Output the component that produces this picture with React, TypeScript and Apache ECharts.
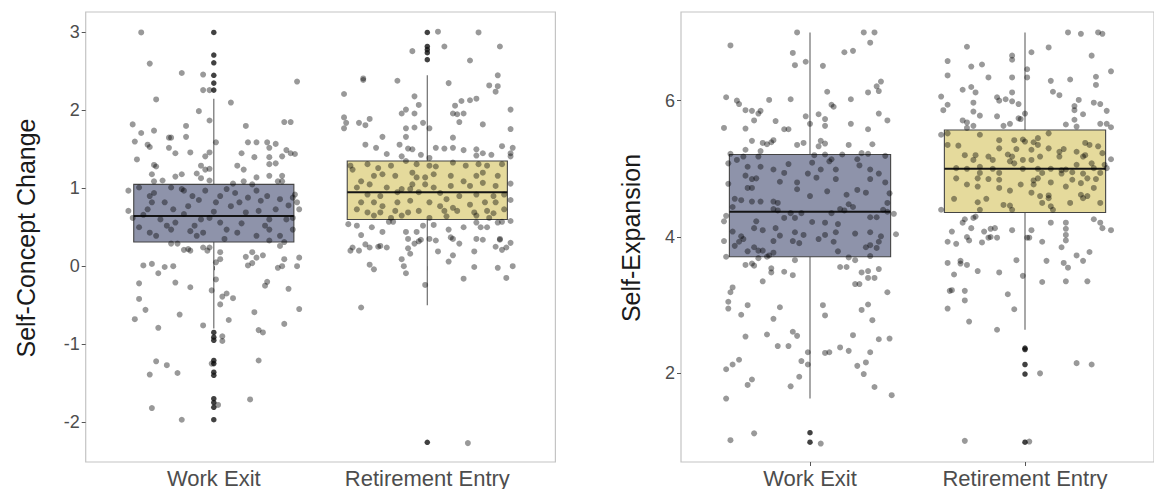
import React, { useEffect, useRef } from "react";
import * as echarts from "echarts";

const categories = ["Work Exit", "Retirement Entry"];
const scTicks = [-2, -1, 0, 1, 2, 3];
const seTicks = [2, 4, 6];

// [low whisker, Q1, median, Q3, high whisker] per category
const scBoxStats = [
  [-0.8, 0.31, 0.645, 1.05, 2.15],
  [-0.5, 0.6, 0.95, 1.35, 2.45],
];
const seBoxStats = [
  [1.63, 3.71, 4.37, 5.21, 7.0],
  [2.64, 4.36, 5.0, 5.57, 7.0],
];

const scOutliersWorkExit = [3.0, 2.71, 2.61, 2.45, 2.35, 2.26, -0.85, -0.91, -0.95, -1.21, -1.25, -1.36, -1.4, -1.7, -1.75, -1.81, -1.97];
const scOutliersRetirement = [3.0, 2.82, 2.78, 2.74, 2.65, -2.26];
const seOutliersWorkExit = [1.13, 0.99];
const seOutliersRetirement = [2.37, 2.35, 2.13, 1.99, 0.99];

// jittered observations: [horizontal jitter offset, value]
const scJitterWorkExit = [
  [-0.34, 3.0], [-0.3, 2.6], [-0.15, 2.48], [-0.05, 2.46], [-0.05, 2.26], [-0.02, 2.26], [0.39, 2.37], [-0.27, 2.14], [0.08, 2.1], [-0.07, 1.99],
  [-0.02, 1.87], [-0.38, 1.82], [-0.34, 1.71], [-0.28, 1.74], [-0.13, 1.8], [0.15, 1.8], [0.33, 1.85], [0.36, 1.85], [-0.37, 1.6], [-0.31, 1.56],
  [-0.3, 1.53], [-0.21, 1.65], [-0.2, 1.65], [-0.13, 1.66], [0.01, 1.59], [-0.21, 1.52], [-0.18, 1.45], [-0.11, 1.46], [-0.04, 1.41], [-0.02, 1.46],
  [0.16, 1.59], [0.2, 1.59], [0.25, 1.59], [0.29, 1.57], [0.26, 1.52], [0.13, 1.45], [0.19, 1.4], [0.26, 1.4], [0.32, 1.41], [0.34, 1.49],
  [0.36, 1.45], [0.38, 1.44], [-0.36, 1.37], [-0.28, 1.3], [-0.27, 1.28], [-0.29, 1.18], [-0.18, 1.15], [-0.15, 1.18], [-0.08, 1.19], [-0.06, 1.29],
  [-0.04, 1.24], [-0.02, 1.25], [-0.06, 1.13], [-0.02, 1.1], [0.11, 1.29], [0.14, 1.24], [0.26, 1.31], [0.29, 1.32], [0.26, 1.16], [0.32, 1.16],
  [0.3, 1.09], [0.32, 1.09], [-0.24, 1.1], [-0.28, 1.09], [0.09, 1.06], [0.14, 1.09], [0.18, 1.05], [0.2, 1.14], [-0.4, 0.97], [-0.4, 0.71],
  [0.38, 0.92], [0.39, 0.82], [0.4, 0.73], [0.37, 0.88],
  [-0.35, 1.01], [-0.28, 0.94], [-0.23, 0.82], [-0.2, 1.01], [-0.15, 0.99], [-0.29, 0.82], [-0.31, 0.73], [-0.19, 0.73], [-0.12, 0.77], [-0.07, 0.85],
  [0.01, 0.82], [0.06, 0.99], [0.1, 0.94], [0.08, 0.77], [0.12, 0.82], [0.2, 0.97], [0.25, 0.9], [0.31, 0.86], [0.29, 0.73], [0.21, 0.71],
  [0.15, 0.69], [0.26, 0.6], [0.34, 0.6], [-0.25, 0.6], [-0.18, 0.56], [-0.14, 0.67], [-0.06, 0.6], [-0.02, 0.62], [0.03, 0.56], [0.06, 0.47],
  [-0.35, 0.5], [-0.3, 0.43], [-0.27, 0.39], [-0.2, 0.47], [-0.11, 0.45], [-0.08, 0.39], [-0.05, 0.43], [0.11, 0.43], [0.2, 0.39], [0.26, 0.47],
  [0.31, 0.39], [0.37, 0.47], [-0.38, 0.62], [0.37, 0.62], [-0.3, 0.9], [-0.14, 0.97], [-0.1, 0.9], [-0.04, 0.97], [0.03, 0.9], [0.16, 0.88],
  [0.22, 0.84], [0.35, 0.78], [-0.33, 0.66], [-0.22, 0.52], [0.13, 0.55], [0.24, 0.52], [0.0, 0.7], [-0.09, 0.52],
  [-0.2, 0.29], [-0.17, 0.29], [-0.14, 0.21], [-0.11, 0.2], [-0.12, 0.22], [-0.05, 0.24], [-0.03, 0.2], [-0.02, 0.24], [0.03, 0.18], [0.05, 0.35],
  [0.26, 0.33], [0.33, 0.31], [0.31, 0.26], [0.15, 0.12], [0.18, 0.18], [0.2, 0.11], [0.23, 0.14], [0.18, 0.04], [0.16, 0.01], [0.03, 0.09],
  [0.01, 0.05], [0.33, 0.09], [0.4, 0.11], [0.39, 0.0], [0.32, 0.0], [0.3, -0.02], [-0.33, 0.01], [-0.29, 0.03], [-0.23, -0.01], [-0.19, 0.0],
  [-0.26, -0.09], [-0.35, -0.22], [-0.18, -0.21], [-0.11, -0.27], [-0.01, -0.31], [0.01, -0.17], [0.25, -0.2], [0.24, -0.25], [0.35, -0.29], [0.06, -0.35],
  [0.04, -0.39], [0.09, -0.41], [-0.35, -0.42], [0.03, -0.49], [-0.32, -0.56], [0.4, -0.55], [-0.37, -0.68], [-0.16, -0.62], [0.07, -0.69], [0.19, -0.59],
  [-0.05, -0.76], [-0.26, -0.79], [0.33, -0.74], [0.21, -0.82], [0.23, -0.85], [0.04, -0.9], [0.04, -0.96], [-0.27, -1.22], [-0.22, -1.27], [-0.3, -1.39],
  [-0.17, -1.37], [-0.01, -1.25], [0.21, -1.21], [0.17, -1.71], [-0.29, -1.82], [-0.15, -1.97], [0.02, -1.78],
];

const scJitterRetirement = [
  [0.05, 3.01], [0.24, 3.0], [-0.07, 2.76], [0.08, 2.82], [0.34, 2.82], [0.2, 2.64], [-0.3, 2.41], [-0.3, 2.39], [-0.14, 2.38], [0.1, 2.35],
  [0.33, 2.45], [0.29, 2.32], [0.33, 2.31], [0.32, 2.24], [-0.39, 2.21], [-0.06, 2.18], [-0.1, 2.01], [-0.12, 1.96], [-0.04, 2.07], [-0.06, 1.96],
  [0.13, 2.06], [0.16, 2.12], [0.2, 2.13], [0.23, 2.15], [0.12, 1.96], [0.14, 1.95], [0.17, 1.96], [0.15, 1.85], [0.39, 2.01], [-0.39, 1.91],
  [-0.38, 1.84], [-0.39, 1.77], [-0.32, 1.84], [-0.29, 1.81], [-0.27, 1.89], [-0.02, 1.84], [0.01, 1.77], [-0.1, 1.77], [-0.06, 1.78], [0.26, 1.82],
  [0.39, 1.76], [-0.21, 1.66], [-0.1, 1.66], [0.12, 1.65], [-0.29, 1.56], [-0.24, 1.52], [-0.13, 1.56], [-0.09, 1.51], [-0.07, 1.5], [0.04, 1.52],
  [0.08, 1.51], [0.12, 1.52], [0.17, 1.49], [0.23, 1.5], [0.35, 1.54], [0.4, 1.52], [-0.19, 1.44], [-0.12, 1.41], [-0.03, 1.43], [0.01, 1.39],
  [0.23, 1.42], [0.26, 1.45], [0.3, 1.43], [0.39, 1.45], [0.39, 1.41],
  [-0.36, 1.29], [-0.35, 1.24], [-0.28, 1.31], [-0.23, 1.26], [-0.17, 1.29], [-0.1, 1.35], [-0.05, 1.31], [0.01, 1.29], [0.04, 1.28], [0.12, 1.33],
  [0.18, 1.29], [0.24, 1.31], [0.28, 1.29], [0.35, 1.31], [-0.31, 1.09], [-0.25, 1.16], [-0.21, 1.18], [-0.15, 1.16], [-0.07, 1.2], [-0.05, 1.14],
  [-0.01, 1.14], [0.03, 1.18], [0.11, 1.16], [0.17, 1.09], [0.23, 1.16], [0.26, 1.2], [0.33, 1.16], [0.39, 1.06], [-0.33, 1.01], [-0.27, 1.05],
  [-0.19, 1.01], [-0.12, 0.99], [-0.07, 1.05], [-0.01, 1.05], [0.03, 1.01], [0.11, 1.03], [0.2, 1.03], [0.26, 1.07], [0.32, 1.03], [-0.28, 0.92],
  [-0.22, 0.9], [-0.14, 0.95], [-0.08, 0.99], [-0.04, 0.95], [0.06, 0.94], [0.09, 0.86], [0.15, 0.9], [0.23, 0.92], [0.31, 0.9], [0.36, 0.92],
  [-0.31, 0.82], [-0.25, 0.82], [-0.21, 0.77], [-0.14, 0.82], [-0.08, 0.84], [0.01, 0.82], [0.06, 0.77], [0.12, 0.75], [0.2, 0.79], [0.27, 0.82],
  [0.32, 0.82], [0.39, 0.85], [-0.33, 0.73], [-0.28, 0.69], [-0.22, 0.69], [-0.15, 0.71], [-0.09, 0.69], [-0.04, 0.71], [0.08, 0.71], [0.14, 0.71],
  [0.22, 0.69], [0.28, 0.71], [0.31, 0.68], [0.36, 0.73], [-0.25, 0.65], [-0.17, 0.62], [-0.12, 0.65], [0.01, 0.62], [0.09, 0.64], [0.23, 0.65],
  [0.29, 0.62],
  [-0.37, 0.54], [-0.33, 0.52], [-0.26, 0.5], [-0.18, 0.57], [-0.16, 0.57], [-0.1, 0.44], [-0.05, 0.44], [-0.02, 0.52], [0.03, 0.53], [0.1, 0.47],
  [0.17, 0.5], [0.23, 0.56], [0.25, 0.5], [0.28, 0.5], [0.33, 0.56], [0.35, 0.57], [0.39, 0.58], [-0.31, 0.4], [-0.21, 0.44], [-0.09, 0.35],
  [0.01, 0.35], [0.11, 0.37], [0.23, 0.35], [0.34, 0.35],
  [-0.36, 0.2], [-0.35, 0.24], [-0.32, 0.2], [-0.29, 0.28], [-0.27, 0.24], [-0.23, 0.25], [-0.22, 0.26], [-0.19, 0.24], [-0.27, 0.02], [-0.25, -0.04],
  [-0.12, 0.09], [-0.11, 0.0], [-0.1, -0.09], [-0.09, 0.23], [-0.08, 0.16], [-0.06, 0.29], [-0.04, 0.32], [-0.03, 0.34], [-0.01, -0.24], [0.04, 0.33],
  [0.05, 0.19], [0.1, 0.06], [0.12, 0.14], [0.12, 0.35], [0.15, 0.29], [0.17, -0.16], [0.22, 0.19], [0.22, -0.01], [0.26, 0.34], [0.32, 0.25],
  [0.34, 0.34], [0.35, 0.21], [0.37, 0.24], [0.39, 0.3], [0.33, -0.02], [0.4, 0.0], [0.37, -0.15], [-0.31, -0.53], [0.19, -2.27],
];

const seJitterWorkExit = [
  [-0.06, 7.0], [-0.37, 6.81], [-0.08, 6.7], [-0.07, 6.52], [-0.02, 6.57], [0.06, 6.51], [0.16, 6.71], [0.2, 6.73], [0.25, 7.0], [0.3, 7.0],
  [0.28, 6.85], [0.31, 6.21], [0.33, 6.28], [0.32, 6.14], [0.27, 6.12], [0.08, 6.13], [0.19, 6.02], [0.1, 5.94], [0.11, 5.91], [-0.39, 6.05],
  [-0.34, 6.0], [-0.33, 5.95], [-0.3, 5.86], [-0.27, 5.85], [-0.24, 5.81], [-0.23, 5.85], [-0.19, 6.01], [-0.09, 6.02], [-0.26, 5.71], [-0.16, 5.7],
  [-0.02, 5.77], [0.0, 5.66], [0.04, 5.8], [0.07, 5.73], [0.07, 5.63], [0.19, 5.66], [0.32, 5.81], [0.36, 5.71], [-0.4, 5.6], [-0.3, 5.59],
  [-0.12, 5.58], [-0.1, 5.58], [0.27, 5.58], [-0.27, 5.41], [-0.22, 5.38], [-0.2, 5.36], [-0.18, 5.39], [-0.17, 5.42], [-0.06, 5.35], [-0.03, 5.38],
  [0.04, 5.33], [0.05, 5.41], [0.07, 5.37], [0.18, 5.35], [0.29, 5.36], [-0.3, 5.28], [-0.23, 5.26],
  [-0.37, 5.22], [-0.34, 5.13], [-0.31, 5.18], [-0.24, 5.18], [-0.38, 5.08], [-0.29, 5.03], [-0.23, 5.03], [-0.17, 4.99], [-0.1, 5.07], [0.01, 5.09],
  [0.02, 5.2], [0.07, 5.21], [0.09, 5.11], [0.1, 5.14], [0.15, 5.21], [0.22, 5.14], [0.24, 5.23], [0.27, 5.22], [0.35, 5.19], [0.23, 5.05],
  [0.28, 4.99], [0.32, 4.93], [0.35, 4.8], [-0.3, 4.9], [-0.27, 4.85], [-0.25, 4.86], [-0.12, 4.94], [-0.14, 4.81], [-0.06, 4.8], [-0.01, 4.93],
  [0.03, 4.87], [0.05, 4.99], [0.12, 4.99], [0.12, 4.85], [0.28, 4.85], [-0.38, 4.78], [-0.29, 4.72], [-0.27, 4.72], [-0.06, 4.7], [0.08, 4.67],
  [0.22, 4.69], [0.26, 4.65], [0.37, 4.64], [0.0, 4.6], [0.17, 4.62], [-0.35, 4.56], [-0.32, 4.54], [-0.27, 4.52], [-0.23, 4.52], [-0.17, 4.52],
  [-0.15, 4.5], [0.18, 4.48], [0.2, 4.44], [0.36, 4.5], [-0.36, 4.44], [-0.17, 4.41], [-0.15, 4.39], [-0.09, 4.35], [-0.04, 4.35], [0.1, 4.35],
  [0.14, 4.41], [0.16, 4.39], [0.34, 4.4], [0.36, 4.37], [0.39, 4.34], [-0.39, 4.31], [-0.4, 4.23], [-0.25, 4.23], [-0.12, 4.28], [-0.07, 4.28],
  [0.01, 4.22], [0.07, 4.21], [0.13, 4.19], [0.28, 4.29], [0.31, 4.29], [-0.36, 4.08], [-0.32, 4.01], [-0.26, 4.13], [-0.22, 4.1], [-0.16, 4.13],
  [-0.14, 4.02], [-0.07, 4.07], [-0.03, 4.03], [0.07, 4.03], [0.12, 4.07], [0.21, 4.05], [0.28, 4.07], [0.33, 4.01], [0.4, 4.04],
  [-0.4, 3.94], [-0.35, 3.87], [-0.33, 3.93], [-0.31, 3.97], [-0.29, 3.79], [-0.26, 3.85], [-0.24, 3.8], [-0.22, 3.8], [-0.17, 3.94], [-0.17, 3.77],
  [-0.08, 3.94], [-0.05, 3.91], [0.04, 3.97], [0.11, 3.93], [0.13, 3.79], [0.28, 3.88], [0.31, 3.84], [0.32, 3.93], [0.26, 3.85], [0.28, 3.72],
  [-0.39, 3.71], [-0.3, 3.59], [-0.27, 3.61], [-0.26, 3.58], [-0.24, 3.69], [-0.2, 3.71], [-0.19, 3.73], [-0.18, 3.54], [-0.18, 3.48], [-0.12, 3.49],
  [-0.08, 3.44], [-0.07, 3.66], [-0.22, 3.35], [0.14, 3.56], [0.17, 3.56], [0.18, 3.7], [0.21, 3.66], [0.24, 3.48], [0.27, 3.5], [0.27, 3.4],
  [0.3, 3.4], [0.32, 3.53], [0.21, 3.31], [0.23, 3.31], [0.36, 3.19], [-0.36, 3.26], [-0.37, 3.19], [-0.38, 3.05], [-0.38, 2.95], [-0.29, 3.0],
  [-0.32, 2.86], [-0.14, 2.97], [-0.17, 2.8], [0.06, 3.0], [0.07, 2.85], [0.24, 2.93], [0.27, 3.01], [0.29, 2.78], [-0.3, 2.54], [-0.2, 2.57],
  [-0.08, 2.61], [-0.06, 2.55], [-0.15, 2.4], [-0.1, 2.4], [-0.01, 2.31], [0.2, 2.56], [0.32, 2.5], [0.37, 2.51], [0.07, 2.3], [0.09, 2.31],
  [0.14, 2.38], [0.18, 2.33], [0.28, 2.31], [-0.39, 2.06], [-0.36, 2.13], [-0.33, 2.2], [-0.04, 2.18], [-0.01, 2.13], [-0.05, 1.95], [-0.09, 1.81],
  [-0.29, 1.83], [-0.27, 1.91], [0.22, 2.11], [0.26, 2.16], [0.25, 1.99], [0.3, 1.8], [-0.39, 1.63], [0.38, 1.68], [-0.37, 1.02], [-0.26, 1.12],
  [0.05, 0.97],
];

const seJitterRetirement = [
  [0.2, 7.0], [0.26, 6.98], [0.34, 7.0], [0.36, 6.98], [-0.27, 6.79], [-0.06, 6.66], [-0.06, 6.6], [0.03, 6.71], [0.11, 6.78], [0.31, 6.66],
  [-0.36, 6.58], [-0.25, 6.5], [-0.2, 6.53], [-0.36, 6.37], [-0.17, 6.34], [-0.06, 6.34], [0.01, 6.46], [0.01, 6.34], [0.12, 6.29], [0.21, 6.31],
  [0.33, 6.35], [0.4, 6.43], [0.33, 6.23], [-0.29, 6.16], [-0.25, 6.2], [-0.23, 6.12], [-0.06, 6.12], [0.13, 6.13], [0.16, 6.08], [-0.39, 6.06],
  [-0.36, 5.94], [-0.38, 5.86], [-0.24, 5.97], [-0.13, 6.05], [-0.12, 6.0], [-0.09, 6.02], [-0.06, 5.99], [-0.03, 5.95], [-0.24, 5.84], [-0.21, 5.78],
  [-0.13, 5.77], [0.0, 5.81], [-0.03, 5.74], [-0.02, 5.73], [0.23, 5.92], [0.23, 5.86], [0.25, 6.01], [0.27, 5.8], [0.32, 5.97], [0.35, 5.95],
  [0.38, 5.85], [0.23, 5.72], [0.19, 5.65], [-0.29, 5.71], [-0.27, 5.68], [-0.24, 5.63], [-0.1, 5.63], [-0.07, 5.66], [-0.27, 5.6], [0.24, 5.62],
  [0.35, 5.66], [0.38, 5.66], [0.4, 5.61],
  [-0.39, 5.5], [-0.36, 5.52], [-0.36, 5.35], [-0.31, 5.34], [-0.21, 5.5], [-0.12, 5.42], [-0.05, 5.42], [-0.01, 5.43], [0.0, 5.4], [0.04, 5.39],
  [0.06, 5.45], [0.11, 5.52], [-0.12, 5.3], [-0.04, 5.29], [0.03, 5.28], [0.06, 5.35], [0.11, 5.3], [0.16, 5.25], [0.18, 5.29], [0.28, 5.38],
  [0.3, 5.35], [0.34, 5.33], [0.24, 5.25], [-0.28, 5.2], [-0.23, 5.2], [-0.17, 5.18], [-0.15, 5.13], [-0.08, 5.21], [-0.06, 5.18], [-0.07, 5.11],
  [-0.05, 5.08], [-0.01, 5.13], [-0.24, 5.13], [0.07, 5.18], [0.03, 5.13], [0.16, 5.18], [0.27, 5.18], [0.28, 5.2], [0.36, 5.23], [0.4, 5.14],
  [0.24, 5.06], [0.31, 5.08], [0.37, 5.06], [-0.32, 5.01], [-0.27, 5.0], [-0.21, 5.03], [-0.15, 5.0], [-0.01, 5.0], [0.06, 5.0], [0.12, 5.0],
  [0.17, 4.98], [0.19, 4.99], [0.32, 5.01], [0.38, 5.01], [-0.21, 4.94], [-0.12, 4.94], [0.08, 4.94], [0.17, 4.93], [0.22, 4.95], [0.27, 4.93],
  [0.35, 4.94], [-0.32, 4.86], [-0.22, 4.86], [-0.17, 4.85], [-0.12, 4.84], [0.04, 4.83], [0.06, 4.86], [0.12, 4.8], [0.22, 4.84], [0.29, 4.86],
  [0.33, 4.85], [-0.27, 4.77], [-0.22, 4.74], [-0.12, 4.72], [-0.07, 4.68], [-0.02, 4.77], [0.04, 4.77], [0.19, 4.74], [0.26, 4.79], [0.32, 4.72],
  [0.03, 4.65], [0.07, 4.6], [0.11, 4.61], [0.11, 4.57], [0.26, 4.62], [0.29, 4.6], [-0.33, 4.56], [-0.22, 4.51], [-0.18, 4.56], [-0.1, 4.47],
  [-0.07, 4.46], [0.08, 4.5], [0.12, 4.45], [0.21, 4.5], [0.27, 4.57], [-0.39, 4.4], [-0.21, 4.4], [-0.06, 4.4], [0.13, 4.4], [0.35, 4.5],
  [-0.29, 4.21], [-0.28, 4.26], [-0.24, 4.28], [-0.23, 4.3], [-0.25, 4.13], [-0.19, 4.08], [-0.16, 4.12], [-0.14, 4.13], [-0.06, 4.1], [0.01, 3.99],
  [0.03, 4.1], [0.12, 4.21], [0.19, 4.21], [0.19, 4.12], [0.19, 4.03], [0.32, 4.26], [0.35, 4.21], [0.36, 4.13], [0.4, 4.1], [-0.34, 4.08],
  [-0.27, 4.0], [-0.16, 4.0],
  [-0.36, 3.93], [-0.32, 3.9], [-0.26, 3.95], [-0.2, 3.92], [-0.17, 3.99], [-0.13, 3.99], [0.02, 3.99], [0.08, 3.93], [0.19, 3.95], [0.17, 3.85],
  [0.24, 3.73], [0.3, 3.78], [0.27, 3.65], [-0.36, 3.62], [-0.3, 3.65], [-0.3, 3.61], [-0.27, 3.59], [-0.33, 3.45], [-0.22, 3.5], [-0.12, 3.48],
  [-0.04, 3.66], [-0.01, 3.43], [0.1, 3.65], [0.18, 3.62], [0.2, 3.55], [0.08, 3.34], [0.19, 3.35], [0.29, 3.35], [-0.35, 3.21], [-0.34, 3.22],
  [-0.28, 3.21], [-0.28, 3.07], [-0.08, 3.16], [-0.36, 2.95], [-0.05, 2.94], [-0.26, 2.76], [-0.13, 2.64], [0.07, 2.0], [0.24, 2.15], [0.31, 2.13],
  [-0.28, 1.01], [0.02, 1.0],
];

const FONT = "'Liberation Sans', Arial, Helvetica, sans-serif";
const boxFills = ["#8e93aa", "#e5da9c"];

function jitterData(points: number[][], cat: number) {
  return points.map((p) => [cat + p[0], p[1]]);
}

function outlierData(values: number[], cat: number) {
  return values.map((v) => [cat, v]);
}

function boxData(stats: number[][]) {
  return stats.map((s, i) => [i + 1, s[0], s[1], s[2], s[3], s[4]]);
}

function renderBox(params: any, api: any) {
  const x = api.value(0);
  const lo = api.value(1);
  const q1 = api.value(2);
  const med = api.value(3);
  const q3 = api.value(4);
  const hi = api.value(5);
  const half = 0.375;
  const tl = api.coord([x - half, q3]);
  const br = api.coord([x + half, q1]);
  const cHi = api.coord([x, hi]);
  const cQ3 = api.coord([x, q3]);
  const cQ1 = api.coord([x, q1]);
  const cLo = api.coord([x, lo]);
  const mL = api.coord([x - half, med]);
  const mR = api.coord([x + half, med]);
  const fill = boxFills[params.dataIndex];
  return {
    type: "group",
    children: [
      { type: "line", shape: { x1: cHi[0], y1: cHi[1], x2: cQ3[0], y2: cQ3[1] }, style: { stroke: "#6e6e6e", lineWidth: 1.2 } },
      { type: "line", shape: { x1: cQ1[0], y1: cQ1[1], x2: cLo[0], y2: cLo[1] }, style: { stroke: "#6e6e6e", lineWidth: 1.2 } },
      { type: "rect", shape: { x: tl[0], y: tl[1], width: br[0] - tl[0], height: br[1] - tl[1] }, style: { fill, stroke: "#444", lineWidth: 1.1 } },
      { type: "line", shape: { x1: mL[0], y1: mL[1], x2: mR[0], y2: mR[1] }, style: { stroke: "#151515", lineWidth: 2 } },
    ],
  };
}

function makeXAxis(gridIndex: number) {
  return {
    type: "value",
    gridIndex,
    min: 0.4,
    max: 2.6,
    splitLine: { show: false },
    axisLine: { show: false },
    axisTick: { show: true, length: 4, lineStyle: { color: "#555" }, customValues: [1, 2] },
    axisLabel: {
      customValues: [1, 2],
      formatter: (v: number) => categories[Math.round(v) - 1],
      fontSize: 22,
      fontFamily: FONT,
      color: "#4d4d4d",
      margin: 5,
    },
  };
}

function makeYAxis(gridIndex: number, min: number, max: number, ticks: number[]) {
  return {
    type: "value",
    gridIndex,
    min,
    max,
    splitLine: { show: false },
    axisLine: { show: false },
    axisTick: { show: true, length: 4, lineStyle: { color: "#555" }, customValues: ticks },
    axisLabel: { customValues: ticks, fontSize: 18, fontFamily: FONT, color: "#4d4d4d", margin: 6 },
  };
}

export default function App() {
  const ref = useRef<HTMLDivElement>(null);
  useEffect(() => {
    if (!ref.current) return;
    const chart = echarts.init(ref.current, undefined, { renderer: "svg" });
    const pointStyle = { color: "rgba(0,0,0,0.5)" };
    const outStyle = { color: "#111" };
    chart.setOption({
      animation: false,
      backgroundColor: "#ffffff",
      grid: [
        { left: 85.7, top: 12, width: 469.7, height: 452, show: true, borderColor: "#c4c4c4", borderWidth: 1.2, backgroundColor: "transparent" },
        { left: 681, top: 12, width: 483.1, height: 452, show: true, borderColor: "#c4c4c4", borderWidth: 1.2, backgroundColor: "transparent" },
      ],
      xAxis: [makeXAxis(0), makeXAxis(1)],
      yAxis: [makeYAxis(0, -2.5125, 3.2625, scTicks), makeYAxis(1, 0.7, 7.3, seTicks)],
      graphic: [
        { type: "text", x: 26, y: 238, rotation: Math.PI / 2, style: { text: "Self-Concept Change", fontSize: 25, fontFamily: FONT, fill: "#1a1a1a", textAlign: "center", textVerticalAlign: "middle" } },
        { type: "text", x: 631, y: 238, rotation: Math.PI / 2, style: { text: "Self-Expansion", fontSize: 25, fontFamily: FONT, fill: "#1a1a1a", textAlign: "center", textVerticalAlign: "middle" } },
      ],
      series: [
        { type: "custom", xAxisIndex: 0, yAxisIndex: 0, renderItem: renderBox, data: boxData(scBoxStats), encode: { x: 0, y: [1, 2, 3, 4, 5] }, z: 2, silent: true },
        { type: "custom", xAxisIndex: 1, yAxisIndex: 1, renderItem: renderBox, data: boxData(seBoxStats), encode: { x: 0, y: [1, 2, 3, 4, 5] }, z: 2, silent: true },
        { type: "scatter", xAxisIndex: 0, yAxisIndex: 0, symbolSize: 5.5, itemStyle: outStyle, z: 3, data: [...outlierData(scOutliersWorkExit, 1), ...outlierData(scOutliersRetirement, 2)] },
        { type: "scatter", xAxisIndex: 1, yAxisIndex: 1, symbolSize: 5.5, itemStyle: outStyle, z: 3, data: [...outlierData(seOutliersWorkExit, 1), ...outlierData(seOutliersRetirement, 2)] },
        { type: "scatter", xAxisIndex: 0, yAxisIndex: 0, symbolSize: 6, itemStyle: pointStyle, z: 4, data: [...jitterData(scJitterWorkExit, 1), ...jitterData(scJitterRetirement, 2)] },
        { type: "scatter", xAxisIndex: 1, yAxisIndex: 1, symbolSize: 6, itemStyle: pointStyle, z: 4, data: [...jitterData(seJitterWorkExit, 1), ...jitterData(seJitterRetirement, 2)] },
      ],
    });
    return () => chart.dispose();
  }, []);
  return <div ref={ref} style={{ position: "absolute", left: 0, top: 0, width: 1154, height: 489 }} />;
}
